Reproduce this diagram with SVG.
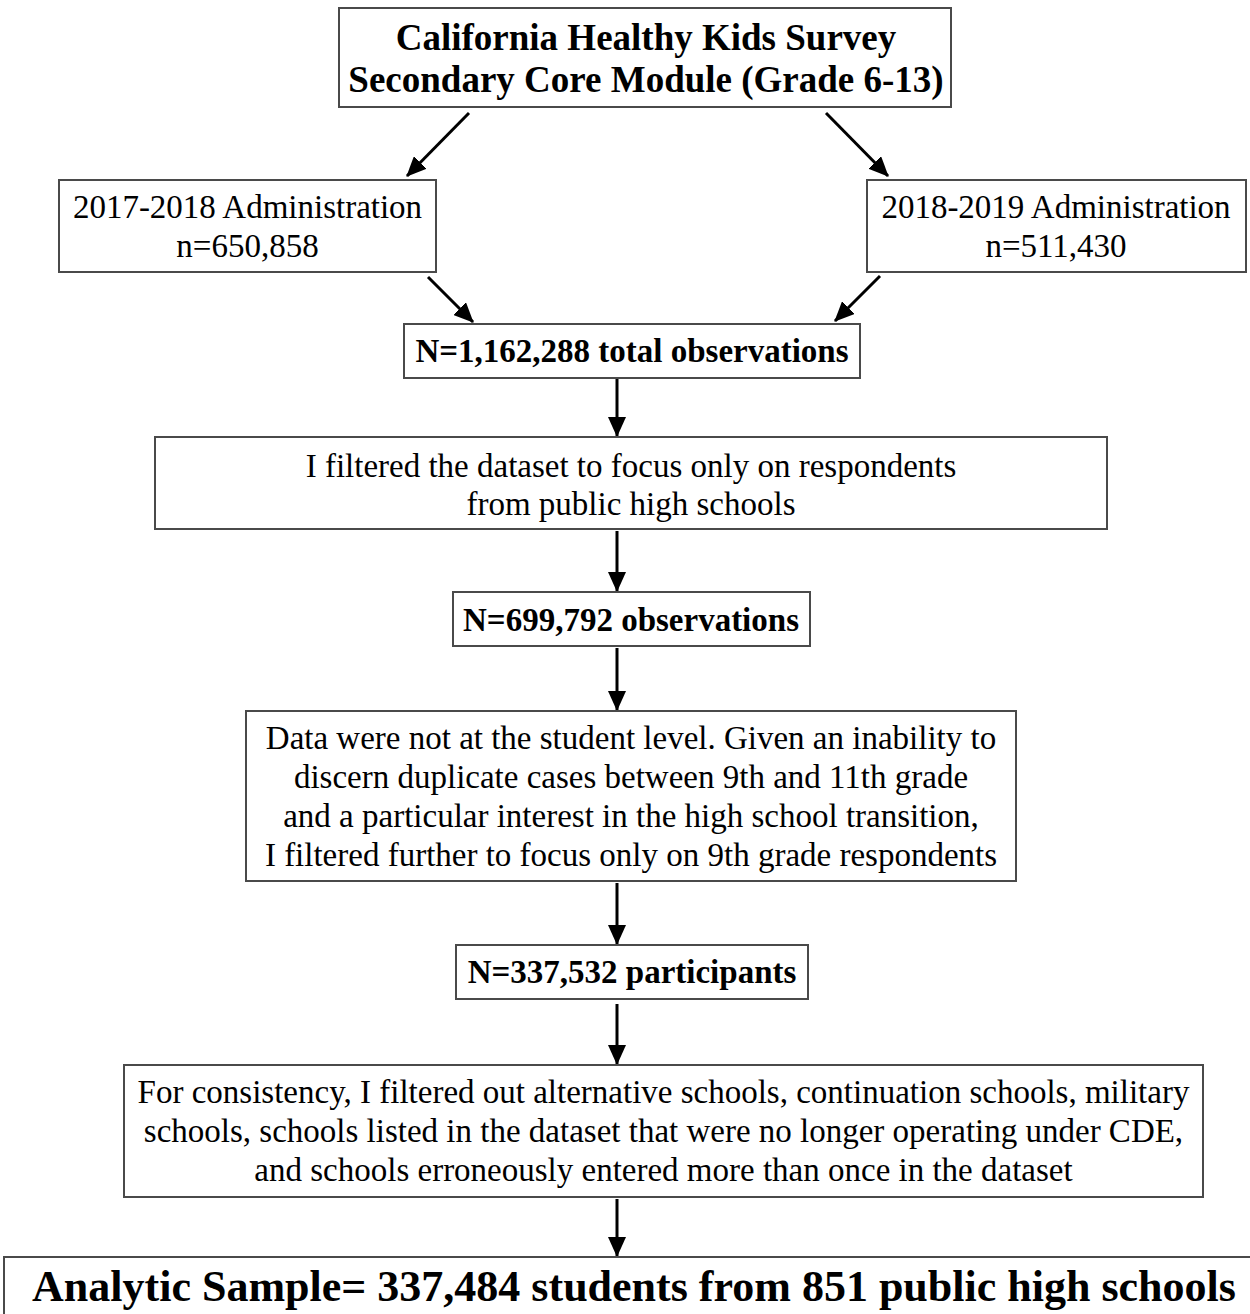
<svg xmlns="http://www.w3.org/2000/svg" width="1250" height="1314" viewBox="0 0 1250 1314">
<defs>
<style>
.box{fill:#fff;stroke:#4a4a4a;stroke-width:2}
.t{font-family:"Liberation Serif","Times New Roman",serif;font-size:33px;fill:#000;text-anchor:middle}
.b{font-weight:bold}
.c{stroke:#000;stroke-width:3;fill:none;marker-end:url(#ah)}
</style>
<marker id="ah" markerUnits="userSpaceOnUse" markerWidth="20" markerHeight="18" viewBox="0 0 20 18" refX="19" refY="9" orient="auto">
<path d="M0,0 L20,9 L0,18 Z" fill="#000"/>
</marker>
</defs>
<rect width="1250" height="1314" fill="#fff"/>
<g id="connectors">
<line class="c" x1="469" y1="113" x2="407" y2="176"/>
<line class="c" x1="826" y1="113" x2="888" y2="176"/>
<line class="c" x1="428" y1="277" x2="473" y2="322"/>
<line class="c" x1="880" y1="276" x2="835" y2="321"/>
<line class="c" x1="617" y1="379" x2="617" y2="436"/>
<line class="c" x1="617" y1="531" x2="617" y2="591"/>
<line class="c" x1="617" y1="648" x2="617" y2="710"/>
<line class="c" x1="617" y1="883" x2="617" y2="944"/>
<line class="c" x1="617" y1="1004" x2="617" y2="1064"/>
<line class="c" x1="617" y1="1199" x2="617" y2="1256"/>
</g>
<g id="n_source">
<rect class="box" x="339" y="8" width="612" height="99"/>
<text class="t b" x="646" y="50" style="font-size:37px">California Healthy Kids Survey</text>
<text class="t b" x="646" y="92" style="font-size:37px">Secondary Core Module (Grade 6-13)</text>
</g>
<g id="n_2017">
<rect class="box" x="59" y="180" width="377" height="92"/>
<text class="t" x="247.5" y="218">2017-2018 Administration</text>
<text class="t" x="247.5" y="257">n=650,858</text>
</g>
<g id="n_2018">
<rect class="box" x="867" y="180" width="379" height="92"/>
<text class="t" x="1056" y="218">2018-2019 Administration</text>
<text class="t" x="1056" y="257">n=511,430</text>
</g>
<g id="n_total">
<rect class="box" x="404" y="324" width="456" height="54"/>
<text class="t b" x="632" y="362">N=1,162,288 total observations</text>
</g>
<g id="n_filter1">
<rect class="box" x="155" y="437" width="952" height="92"/>
<text class="t" x="631" y="477">I filtered the dataset to focus only on respondents</text>
<text class="t" x="631" y="515">from public high schools</text>
</g>
<g id="n_699">
<rect class="box" x="453" y="592" width="357" height="54"/>
<text class="t b" x="631" y="631">N=699,792 observations</text>
</g>
<g id="n_filter2">
<rect class="box" x="246" y="711" width="770" height="170"/>
<text class="t" x="631" y="749">Data were not at the student level. Given an inability to</text>
<text class="t" x="631" y="788">discern duplicate cases between 9th and 11th grade</text>
<text class="t" x="631" y="827">and a particular interest in the high school transition,</text>
<text class="t" x="631" y="866">I filtered further to focus only on 9th grade respondents</text>
</g>
<g id="n_337">
<rect class="box" x="456" y="945" width="352" height="54"/>
<text class="t b" x="632" y="983">N=337,532 participants</text>
</g>
<g id="n_filter3">
<rect class="box" x="124" y="1065" width="1079" height="132"/>
<text class="t" x="663.5" y="1103">For consistency, I filtered out alternative schools, continuation schools, military</text>
<text class="t" x="663.5" y="1142">schools, schools listed in the dataset that were no longer operating under CDE,</text>
<text class="t" x="663.5" y="1181">and schools erroneously entered more than once in the dataset</text>
</g>
<g id="n_final">
<rect class="box" x="4" y="1257" width="1260" height="80"/>
<text class="t b" x="634" y="1301" style="font-size:44px">Analytic Sample= 337,484 students from 851 public high schools</text>
</g>
</svg>
